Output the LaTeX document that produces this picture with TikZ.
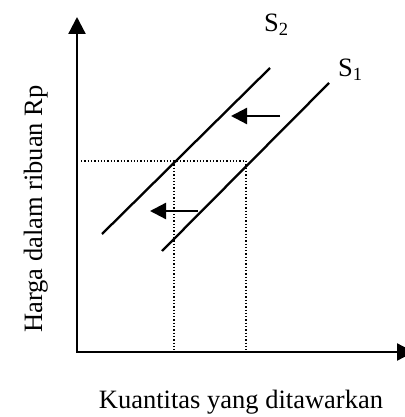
\documentclass[tikz,border=0pt]{standalone}
\usepackage{fontspec}
\setmainfont{Liberation Serif}
\usetikzlibrary{arrows.meta}
\begin{document}
\begin{tikzpicture}[x=1pt,y=-1pt,
    axis/.style={line width=2.3pt,{Triangle[length=17pt,width=17pt]}-{Triangle[length=17pt,width=17pt]}},
    supply/.style={line width=2.3pt},
    shiftarrow/.style={line width=2.3pt,-{Triangle[length=16pt,width=16pt]}},
    guide/.style={dotted,line width=1.3pt},
    lbl/.style={font=\fontsize{26.5}{30}\selectfont,inner sep=0pt}]
    \useasboundingbox (0,0) rectangle (404,417);
    \coordinate (O) at (77,352); \coordinate (ytop) at (77,17); \coordinate (xend) at (414,352);
    \draw[axis] (ytop)--(O)--(xend);
    % supply curves
    \coordinate (s2a) at (102,234); \coordinate (s2b) at (270,68);
    \coordinate (s1a) at (162,251); \coordinate (s1b) at (329,83);
    \draw[supply] (s2a)--(s2b); \draw[supply] (s1a)--(s1b);
    \node[lbl,anchor=base west] (S2) at (264,32) {S\textsubscript{2}};
    \node[lbl,anchor=base west] (S1) at (338,77) {S\textsubscript{1}};
    % equilibrium guides
    \coordinate (E2) at (174,161); \coordinate (E1) at (246,161); \coordinate (P) at (81,161);
    \draw[guide] (P)--(E1); \draw[guide] (E2)--(E2|-O); \draw[guide] (E1)--(E1|-O);
    % shift
    \coordinate (a1) at (280,116); \coordinate (a1t) at (231,116);
    \coordinate (a2) at (198,211); \coordinate (a2t) at (150,211);
    \draw[shiftarrow] (a1)--(a1t); \draw[shiftarrow] (a2)--(a2t);
    \node[lbl,anchor=base] (xlab) at (241,408) {Kuantitas yang ditawarkan};
    \node[lbl,rotate=90,anchor=base] (ylab) at (42,209) {Harga dalam ribuan Rp};
\end{tikzpicture}
\end{document}
